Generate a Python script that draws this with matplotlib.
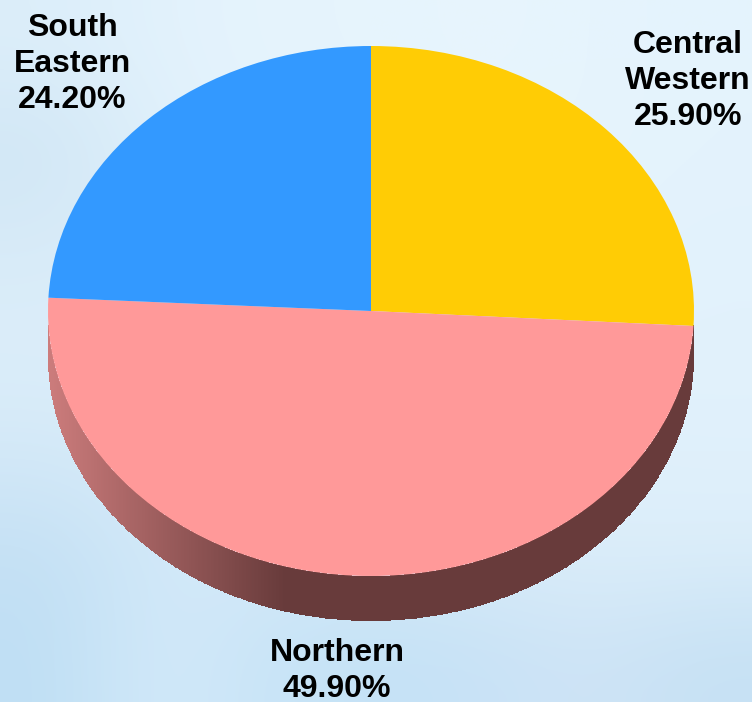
import matplotlib
matplotlib.use('Agg')
import matplotlib.pyplot as plt
import numpy as np
from matplotlib.colors import LinearSegmentedColormap

plt.rcParams['font.family'] = ['Liberation Sans', 'DejaVu Sans']

# data
labels = ['Central\nWestern', 'Northern', 'South\nEastern']
shares = [25.90, 49.90, 24.20]
colors = ['#ffcc05', '#ff9999', '#3399ff']

# backdrop tints, rows top to bottom
bg_rows = [
    ['#dceefa', '#e2f2fc', '#e6f4fd', '#e6f4fd', '#e8f5fd', '#e6f4fd', '#e4f3fd'],
    ['#d0e6f5', '#dff0fb', '#e4f3fd', '#e6f4fd', '#e6f4fd', '#e6f4fd', '#e4f3fd'],
    ['#d8ebf8', '#dceefa', '#e2f2fc', '#e4f3fd', '#e4f3fd', '#e4f3fd', '#e2f2fc'],
    ['#dceefa', '#dceefa', '#e0f0fb', '#e0f0fb', '#e0f0fb', '#e2f2fc', '#e2f2fc'],
    ['#d4e9f8', '#d8ecf9', '#dceefa', '#dceefa', '#dceefa', '#dff0fb', '#e0f0fb'],
    ['#c4e0f4', '#d2e9f9', '#d4e9f8', '#d4e9f8', '#d8ecf9', '#dceefa', '#dceefa'],
    ['#bfdff4', '#d4eafa', '#c8e4f7', '#c4e2f6', '#c8e2f6', '#cfe4f6', '#c6e1f4'],
]

# figure
W, H = 752, 702
cx, cy = 371, 311
rx, ry = 323, 265
depth = 45

fig = plt.figure(figsize=(W / 100, H / 100), dpi=100)
ax = fig.add_axes([0, 0, 1, 1])

bg = np.array([[matplotlib.colors.to_rgb(c) for c in row] for row in bg_rows])
ax.pie(shares, colors=colors, startangle=90, counterclock=False, radius=1,
       wedgeprops=dict(linewidth=0, zorder=3))

ax.set_aspect('auto')
ax.set_xlim(-cx / rx, (W - cx) / rx)
ax.set_ylim(-(H - cy) / ry, cy / ry)

ax.imshow(bg, extent=ax.get_xlim() + ax.get_ylim(), aspect='auto',
          interpolation='bicubic', zorder=0)
ax.set_xlim(-cx / rx, (W - cx) / rx)
ax.set_ylim(-(H - cy) / ry, cy / ry)

# rim under the front half, shaded from the left edge
shade = LinearSegmentedColormap.from_list('rim', ['#cc7c7c', '#683b3b'])
t = np.linspace(np.pi + 0.05, 2 * np.pi - 0.05, 700)
xs = np.cos(t)
top = np.sin(t)
bottom = top - depth / ry
X = np.vstack([xs, xs])
Y = np.vstack([top, bottom])
mid = (xs[:-1] + xs[1:]) / 2
C = np.clip((mid * rx + rx) / (285 - 48), 0, 1)
ax.pcolormesh(X, Y, C[None, :], cmap=shade, vmin=0, vmax=1,
              shading='flat', antialiased=False, zorder=2)

# labels
for lab, val, px, py in zip(labels, shares, [688, 337, 72], [81, 671, 64]):
    ax.text((px - cx) / rx, (cy - py) / ry, '%s\n%.2f%%' % (lab, val),
            ha='center', va='center', fontsize=23, fontweight='bold',
            color='black', linespacing=1.27, zorder=5)

ax.set_axis_off()
fig.savefig('out.png', dpi=100)
